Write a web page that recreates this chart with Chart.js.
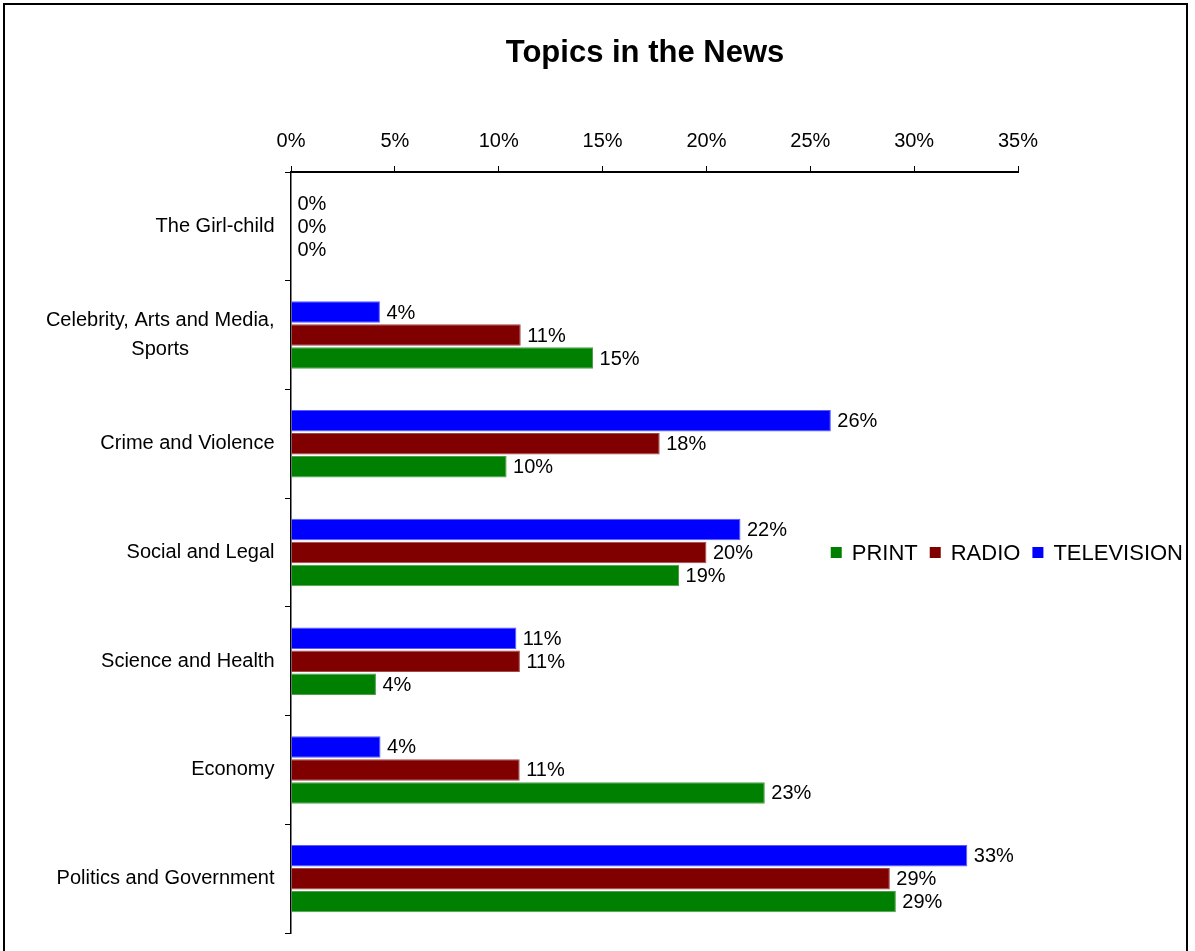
<!DOCTYPE html>
<html>
<head>
<meta charset="utf-8">
<title>Topics in the News</title>
<script src="https://cdn.jsdelivr.net/npm/chart.js@4.4.1/dist/chart.umd.min.js"></script>
<style>
  html, body { margin: 0; padding: 0; background: #ffffff; overflow: hidden; }
  #wrap { width: 1195px; height: 951px; position: relative; }
</style>
</head>
<body>
<div id="wrap"><canvas id="chart" width="1195" height="951"></canvas></div>
<script>
// Topics covered by each medium, share of stories (%)
const categories = [
  'The Girl-child',
  ['Celebrity, Arts and Media,', 'Sports'],
  'Crime and Violence',
  'Social and Legal',
  'Science and Health',
  'Economy',
  'Politics and Government'
];
const television = [0, 4.28, 25.99, 21.64, 10.85, 4.31, 32.56];
const radio      = [0, 11.06, 17.75, 20.00, 11.02, 11.01, 28.83];
const print      = [0, 14.54, 10.38, 18.68, 4.09, 22.81, 29.12];
const percentTicks = [0, 5, 10, 15, 20, 25, 30, 35];
const chartTitle = 'Topics in the News';

const FONT = "'Liberation Sans', Arial, Helvetica, sans-serif";
const fmt = v => Math.round(v) + '%';

// Frame around the whole figure (open at the bottom edge) and the heading
const framePlugin = {
  id: 'frame',
  afterDraw(chart) {
    const ctx = chart.ctx;
    ctx.save();
    ctx.strokeStyle = '#000';
    ctx.lineWidth = 2;
    ctx.strokeRect(4, 4, chart.width - 12, chart.height + 10);
    ctx.font = 'bold 31px ' + FONT;
    ctx.fillStyle = '#000';
    ctx.textAlign = 'center';
    ctx.textBaseline = 'middle';
    ctx.fillText(chartTitle, 645, 53);
    ctx.restore();
  }
};

// Category names, right-aligned as a block with each line centred
const categoryLabels = {
  id: 'categoryLabels',
  afterDraw(chart) {
    const ctx = chart.ctx;
    const y = chart.scales.y;
    const right = chart.chartArea.left - 16.5;
    ctx.save();
    ctx.font = '20px ' + FONT;
    ctx.fillStyle = '#000';
    ctx.textAlign = 'center';
    ctx.textBaseline = 'middle';
    chart.data.labels.forEach((lab, i) => {
      const lines = Array.isArray(lab) ? lab : [lab];
      const w = Math.max(...lines.map(l => ctx.measureText(l).width));
      const cx = right - w / 2;
      const cy = y.getPixelForValue(i);
      lines.forEach((l, k) => {
        ctx.fillText(l, cx, cy + (k - (lines.length - 1) / 2) * 28.6);
      });
    });
    ctx.restore();
  }
};

// Value labels just past the end of each bar
const valueLabels = {
  id: 'valueLabels',
  afterDatasetsDraw(chart) {
    const ctx = chart.ctx;
    ctx.save();
    ctx.font = '20px ' + FONT;
    ctx.fillStyle = '#000';
    ctx.textAlign = 'left';
    ctx.textBaseline = 'middle';
    chart.data.datasets.forEach((ds, di) => {
      chart.getDatasetMeta(di).data.forEach((bar, i) => {
        ctx.fillText(fmt(ds.data[i]), bar.x + 6.5, bar.y + 1);
      });
    });
    ctx.restore();
  }
};

// Single-row legend at the right, vertically centred on the plot
const rowLegend = {
  id: 'rowLegend',
  afterDraw(chart) {
    const ctx = chart.ctx;
    const items = chart.data.datasets.slice().reverse();
    const box = 11, gapText = 10, gapItem = 12;
    ctx.save();
    ctx.font = '22px ' + FONT;
    ctx.textBaseline = 'middle';
    ctx.textAlign = 'left';
    const widths = items.map(d => ctx.measureText(d.label).width);
    const total = widths.reduce((a, w) => a + box + gapText + w, 0) + gapItem * (items.length - 1);
    let x = chart.width - 12 - total;
    const cy = (chart.chartArea.top + chart.chartArea.bottom) / 2;
    items.forEach((d, k) => {
      ctx.fillStyle = d.backgroundColor;
      ctx.fillRect(x, cy - box / 2, box, box);
      x += box + gapText;
      ctx.fillStyle = '#000';
      ctx.fillText(d.label, x, cy + 1);
      x += widths[k] + gapItem;
    });
    ctx.restore();
  }
};

new Chart(document.getElementById('chart'), {
  type: 'bar',
  data: {
    labels: categories,
    datasets: [
      { label: 'TELEVISION', data: television, backgroundColor: '#0000ff', borderColor: '#5a5aff', borderWidth: 1 },
      { label: 'RADIO',      data: radio,      backgroundColor: '#800000', borderColor: '#a04848', borderWidth: 1 },
      { label: 'PRINT',      data: print,      backgroundColor: '#008000', borderColor: '#4ca04c', borderWidth: 1 }
    ]
  },
  options: {
    indexAxis: 'y',
    responsive: false,
    animation: false,
    devicePixelRatio: 1,
    categoryPercentage: 0.634,
    barPercentage: 0.935,
    layout: { padding: { top: 116, left: 0, right: 177, bottom: 18 } },
    plugins: {
      legend: { display: false },
      tooltip: { enabled: false },
      title: { display: false }
    },
    scales: {
      x: {
        position: 'top',
        min: 0,
        max: 35,
        afterBuildTicks(scale) { scale.ticks = percentTicks.map(v => ({ value: v })); },
        ticks: {
          callback: v => v + '%',
          color: '#000',
          font: { family: FONT, size: 20 },
          padding: 13,
          maxRotation: 0
        },
        grid: { drawOnChartArea: false, drawTicks: true, tickLength: 6, color: '#000', lineWidth: 1 },
        border: { display: true, color: '#000', width: 2 }
      },
      y: {
        afterFit(scale) { scale.width = 291; },
        ticks: { display: false },
        grid: { drawOnChartArea: false, drawTicks: true, tickLength: 6, color: '#000', lineWidth: 1, offset: true },
        border: { display: true, color: '#000', width: 1.5 }
      }
    }
  },
  plugins: [framePlugin, categoryLabels, valueLabels, rowLegend]
});
</script>
</body>
</html>
